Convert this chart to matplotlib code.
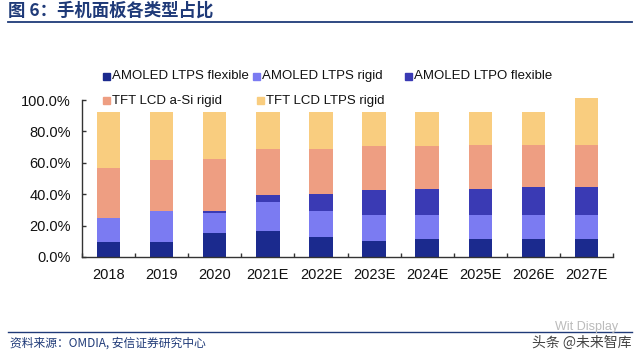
import matplotlib
matplotlib.use("Agg")
import matplotlib.pyplot as plt
from matplotlib.patches import Rectangle
from matplotlib.lines import Line2D
import numpy as np

plt.rcParams['font.family'] = ['Liberation Sans', 'Noto Sans CJK SC', 'DejaVu Sans']

categories = ["2018", "2019", "2020", "2021E", "2022E", "2023E", "2024E", "2025E", "2026E", "2027E"]
series_names = ["AMOLED LTPS flexible", "AMOLED LTPS rigid", "AMOLED LTPO flexible",
                "TFT LCD a-Si rigid", "TFT LCD LTPS rigid"]
amoled_ltps_flex = [9.8, 9.8, 15.1, 16.6, 12.9, 10.4, 11.5, 11.5, 11.5, 11.5]
amoled_ltps_rigid = [15.2, 19.5, 13.1, 18.6, 16.4, 16.4, 15.3, 15.3, 15.3, 15.3]
amoled_ltpo_flex = [0.0, 0.0, 1.3, 4.3, 10.8, 15.9, 16.7, 16.7, 17.6, 17.6]
tft_asi_rigid = [31.9, 32.7, 32.7, 29.1, 28.5, 28.0, 27.2, 27.8, 26.9, 26.9]
tft_ltps_rigid = [35.6, 30.5, 30.3, 23.9, 23.9, 21.8, 21.8, 21.2, 21.2, 29.7]
yticks = [0, 20, 40, 60, 80, 100]

colors = ["#1B2A8E", "#7B7BF2", "#3A3AB4", "#EE9E82", "#F9CD7F"]
series = [amoled_ltps_flex, amoled_ltps_rigid, amoled_ltpo_flex, tft_asi_rigid, tft_ltps_rigid]

W, H = 640, 358
fig = plt.figure(figsize=(W/100, H/100), dpi=100)

def fx(px): return px / W
def fy(py): return 1 - py / H

ax = fig.add_axes([fx(82), fy(257), fx(613) - fx(82), fy(100) - fy(257)])
x = np.arange(len(categories))
bottom = np.zeros(len(categories))
for vals, c in zip(series, colors):
    ax.bar(x, vals, bottom=bottom, width=0.44, color=c, clip_on=False, zorder=2)
    bottom += np.array(vals)

ax.set_xlim(-0.5, len(categories) - 0.5)
ax.set_ylim(0, 100)
ax.set_yticks(yticks)
ax.set_yticklabels([f"{v:.1f}%" for v in yticks], fontsize=10.5, color="#111111")
ax.set_xticks(x)
ax.set_xticklabels(categories, fontsize=10.5, color="#111111")
ax.tick_params(axis='x', length=0, pad=8)
ax.set_xticks(np.arange(-0.5, len(categories)), minor=True)
ax.tick_params(axis='x', which='minor', length=3, width=1, color="#333333", direction='in')
ax.tick_params(axis='y', length=3, width=1, color="#333333", direction='in', pad=8)
for s in ["top", "right"]:
    ax.spines[s].set_visible(False)
for s in ["left", "bottom"]:
    ax.spines[s].set_color("#333333")
    ax.spines[s].set_linewidth(1.0)

# Legend (manual)
legend_items = [
    (series_names[0], colors[0], 103, 76),
    (series_names[1], colors[1], 253, 76),
    (series_names[2], colors[2], 405, 76),
    (series_names[3], colors[3], 103, 101),
    (series_names[4], colors[4], 257, 101),
]
sq = 7
for name, c, px, py in legend_items:
    fig.add_artist(Rectangle((fx(px), fy(py + sq/2)), sq / W, sq / H,
                             transform=fig.transFigure, color=c))
    fig.text(fx(px + sq + 1.5), fy(py), name, fontsize=9.5, va='center', ha='left', color="#111111")

# Title
fig.text(fx(8), fy(11), "图 6：手机面板各类型占比", fontsize=12.5, fontweight='bold',
         color="#1F3A78", va='center', ha='left',
         family=['Noto Sans CJK SC', 'DejaVu Sans'])
fig.add_artist(Line2D([fx(8), fx(632)], [fy(22), fy(22)], color="#1F3A78", lw=1.3,
                      transform=fig.transFigure))

# Footer
fig.add_artist(Line2D([fx(8), fx(632)], [fy(332), fy(332)], color="#1F3A78", lw=1.0,
                      transform=fig.transFigure))
fig.text(fx(10), fy(343), "资料来源：OMDIA, 安信证券研究中心", fontsize=8.5, style='italic',
         color="#1F3A78", va='center', ha='left',
         family=['Noto Sans CJK SC', 'DejaVu Sans'])
fig.text(fx(618), fy(327), "Wit Display", fontsize=9, color="#BBBBBB", va='center', ha='right')
fig.text(fx(632), fy(343), "头条 @未来智库", fontsize=10, color="#444444", va='center', ha='right',
         family=['Noto Sans CJK SC', 'DejaVu Sans'])

fig.savefig("out.png", dpi=100, facecolor="white")
